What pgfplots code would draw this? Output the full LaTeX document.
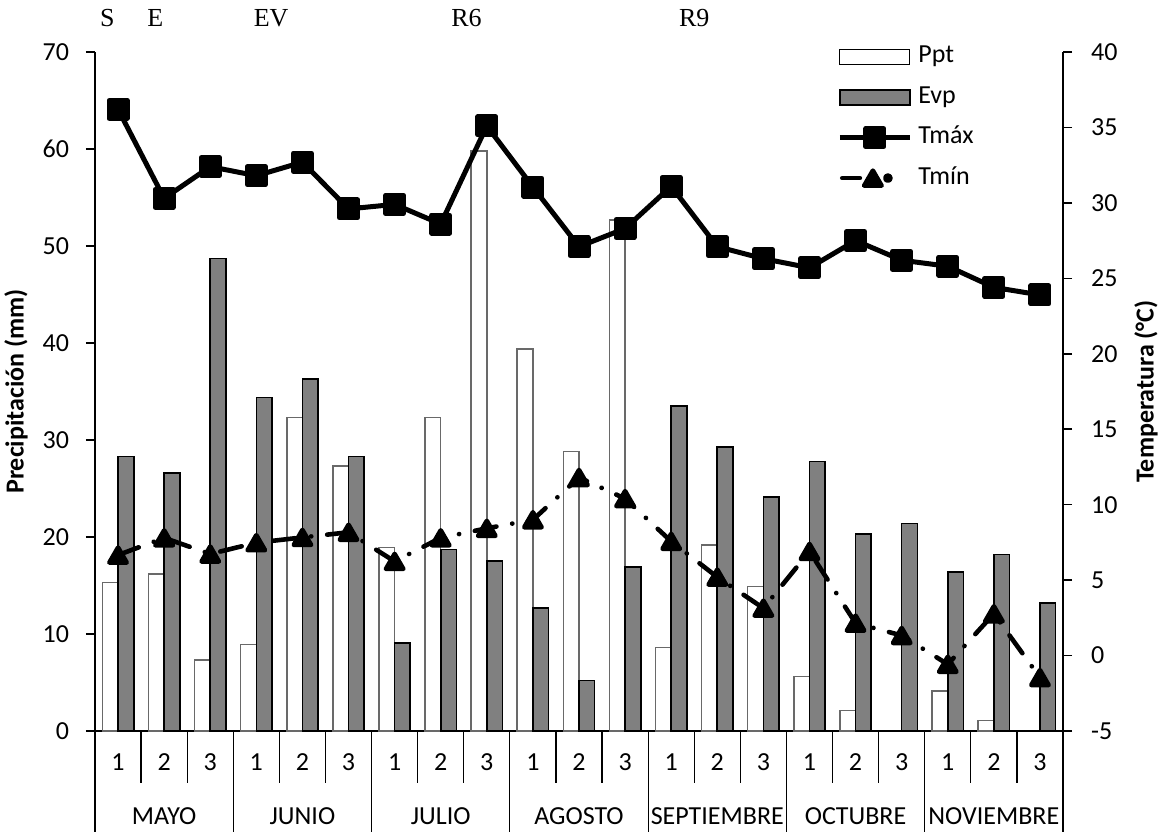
\documentclass[border=0pt]{standalone}
\usepackage{fontspec}
\setmainfont{Carlito}
\newfontfamily\timesfont{Liberation Serif}
\usepackage{pgfplots}
\usepackage{pgfplotstable}
\pgfplotsset{compat=1.18}
\definecolor{evpgray}{RGB}{128,128,128}
\definecolor{pptedge}{RGB}{105,105,105}
\tikzset{
  pptbar/.style={fill=white, draw=pptedge, line width=0.75pt},
  evpbar/.style={fill=evpgray, draw=black, line width=0.8pt},
}
\pgfplotsset{
  linelegend/.style={legend image code/.code={\draw[mark repeat=2,mark phase=2,##1] plot coordinates {(0pt,0pt)(17.5pt,0pt)(35pt,0pt)};}},
  tminlegend/.style={legend image code/.code={%
    \draw[##1, mark=none, solid] (1.2pt,0pt) -- (10pt,0pt);
    \fill (24pt,0pt) circle (1.25pt);
    \draw[##1, mark repeat=2, mark phase=2, draw=none] plot coordinates {(0pt,0pt)(16.5pt,0pt)(33pt,0pt)};}},
  pptlegend/.style={legend image code/.code={\draw[fill=white, draw=black, line width=0.6pt] (0pt,-3.75pt) rectangle (35pt,3.75pt);}},
  evplegend/.style={legend image code/.code={\draw[fill=evpgray, draw=black, line width=0.8pt] (0pt,-3.75pt) rectangle (35pt,3.75pt);}},
}
\pgfplotstableread{
x ppt evp
0 15.3 28.3
1 16.2 26.6
2 7.3 48.7
3 8.9 34.4
4 32.3 36.3
5 27.3 28.3
6 18.9 9.1
7 32.3 18.7
8 59.8 17.5
9 39.4 12.7
10 28.8 5.2
11 52.7 16.9
12 8.6 33.5
13 19.2 29.3
14 14.9 24.1
15 5.6 27.8
16 2.1 20.3
18 4.1 16.4
19 1.1 18.2
}\pptdata
\pgfplotstableread{
x evp
17 21.4
20 13.2
}\evpextra
\pgfplotstableread{
x tmax tmin
0 36.2 6.66
1 30.3 7.8
2 32.4 6.73
3 31.8 7.48
4 32.7 7.83
5 29.6 8.17
6 29.9 6.24
7 28.6 7.8
8 35.1 8.43
9 31.05 9.0
10 27.1 11.8
11 28.3 10.4
12 31.1 7.57
13 27.1 5.2
14 26.3 3.14
15 25.7 6.9
16 27.5 2.15
17 26.2 1.33
18 25.8 -0.58
19 24.4 2.77
20 23.9 -1.46
}\tempdata
\begin{document}
\fontsize{13pt}{15.6pt}\selectfont
\begin{tikzpicture}
\begin{axis}[
  name=main,
  scale only axis, width=484pt, height=339.5pt,
  clip=false,
  xmin=-0.5, xmax=20.5, ymin=0, ymax=70,
  axis x line*=bottom, axis y line*=left,
  axis line style={line width=0.8pt},
  tick align=outside, major tick length=4.5pt,
  tick style={black, line width=0.8pt},
  ytick={0,10,...,70},
  yticklabel style={xshift=-4pt},
  xtick={0,...,20},
  xticklabels={1,2,3,1,2,3,1,2,3,1,2,3,1,2,3,1,2,3,1,2,3},
  xtick style={draw=none},
  xticklabel style={yshift=-2.5pt},
  /pgf/number format/assume math mode=true,
  ylabel={\bfseries Precipitación (mm)},
  ylabel style={at={(axis description cs:-0.0816,0.5)}, anchor=center},
]
\addplot[ybar, bar width=0.34, bar shift=-0.17, pptbar] table[x=x,y=ppt]{\pptdata};
\addplot[ybar, bar width=0.34, bar shift=0.17, evpbar] table[x=x,y=evp]{\pptdata};
\addplot[ybar, bar width=0.34, bar shift=0.17, evpbar] table[x=x,y=evp]{\evpextra};
\pgfplotsinvokeforeach{0.5,1.5,...,19.5}{
  \draw[line width=0.6pt] (axis cs:#1,0) -- ([yshift=-26pt]axis cs:#1,0);
}
\pgfplotsinvokeforeach{-0.5,2.5,...,20.5}{
  \draw[line width=0.6pt] (axis cs:#1,0) -- ([yshift=-50.5pt]axis cs:#1,0);
}
\node[anchor=base, yshift=-47pt] at (axis cs:1,0) {MAYO};
\node[anchor=base, yshift=-47pt] at (axis cs:4,0) {JUNIO};
\node[anchor=base, yshift=-47pt] at (axis cs:7,0) {JULIO};
\node[anchor=base, yshift=-47pt] at (axis cs:10,0) {AGOSTO};
\node[anchor=base, yshift=-47pt] at (axis cs:13,0) {SEPTIEMBRE};
\node[anchor=base, yshift=-47pt] at (axis cs:16,0) {OCTUBRE};
\node[anchor=base, yshift=-47pt] at (axis cs:19,0) {NOVIEMBRE};
\node[anchor=base, yshift=13pt, font=\timesfont] at (axis cs:-0.23,70) {S};
\node[anchor=base, yshift=13pt, font=\timesfont] at (axis cs:0.81,70) {E};
\node[anchor=base, yshift=13pt, font=\timesfont] at (axis cs:3.32,70) {EV};
\node[anchor=base, yshift=13pt, font=\timesfont] at (axis cs:7.56,70) {R6};
\node[anchor=base, yshift=13pt, font=\timesfont] at (axis cs:12.5,70) {R9};
\end{axis}
\begin{axis}[
  scale only axis, width=484pt, height=339.5pt,
  clip=false,
  xmin=-0.5, xmax=20.5, ymin=-5, ymax=40,
  axis x line=none, axis y line*=right,
  axis line style={line width=0.8pt},
  tick align=outside, major tick length=4.5pt,
  tick style={black, line width=0.8pt},
  ytick={-5,0,...,40},
  yticklabel style={xshift=5pt},
  /pgf/number format/assume math mode=true,
  ylabel={\bfseries Temperatura (°C)},
  ylabel style={at={(axis description cs:1.0857,0.5)}, anchor=center},
  legend style={at={(axis description cs:0.7665,1.011)}, anchor=north west,
    draw=none, fill=none, inner sep=0pt, row sep=8.2pt,
    cells={anchor=west},
    nodes={inner sep=0pt, text height=9pt, text depth=3pt},
    /tikz/every odd column/.append style={column sep=3pt}},
]
\addlegendimage{pptlegend}
\addlegendentry{Ppt}
\addlegendimage{evplegend}
\addlegendentry{Evp}
\addplot[black, line width=2.5pt, line join=round, mark=square*, mark size=4.5pt, mark options={solid}, linelegend]
  table[x=x,y=tmax]{\tempdata};
\addlegendentry{Tmáx}
\addplot[black, line width=2.3pt, line cap=round, line join=round, dash pattern=on 11pt off 8pt on 0.1pt off 8pt,
  mark=triangle*, mark size=5pt, mark options={solid, yshift=-1.25pt}, tminlegend]
  table[x=x,y=tmin]{\tempdata};
\addlegendentry{Tmín}
\end{axis}
\pgfresetboundingbox
\path ([xshift=-47.5pt,yshift=-50.5pt]main.south west) rectangle ([xshift=48pt,yshift=26pt]main.north east);
\end{tikzpicture}
\end{document}
